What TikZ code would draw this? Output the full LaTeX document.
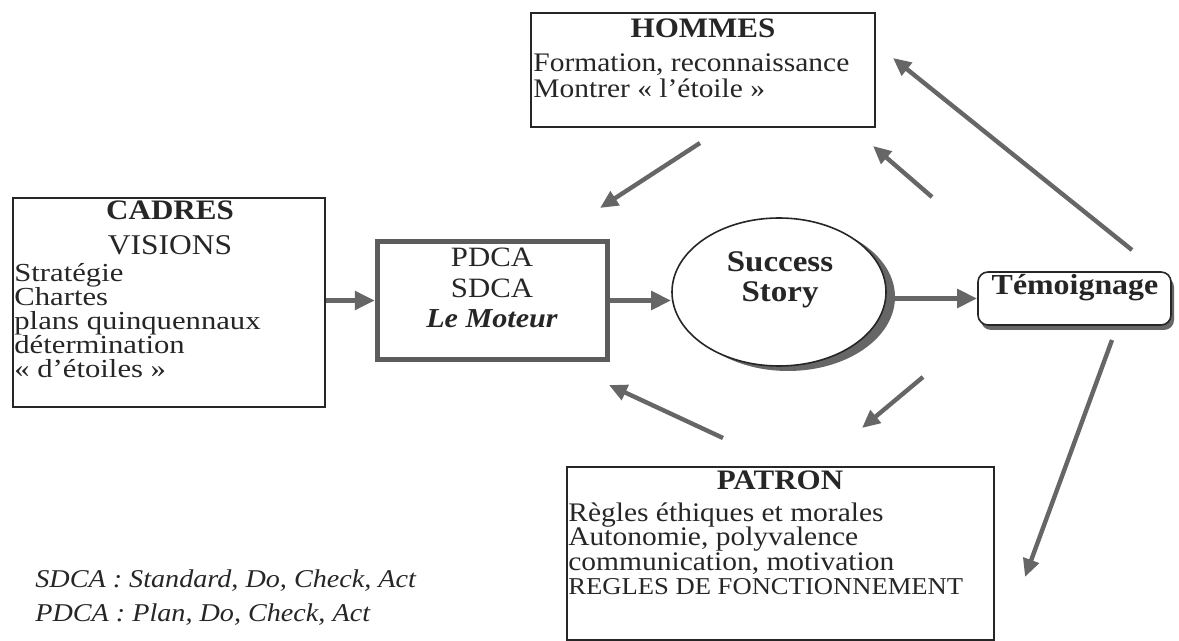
\documentclass[tikz,border=0pt]{standalone}
\usepackage{fontspec}
\setmainfont{Liberation Serif}[FakeStretch=1.1]
\newfontfamily\cadresfont{Liberation Serif}[FakeStretch=1.18]
\usetikzlibrary{arrows.meta,shapes.geometric,shadows}
\definecolor{ink}{HTML}{262626}
\definecolor{arrowgray}{HTML}{666666}
\definecolor{framegray}{HTML}{5C5C5C}
\begin{document}
\begin{tikzpicture}[x=0.5pt,y=-0.5pt,
  frame/.style={draw=ink, line width=0.8pt, rectangle, inner sep=0pt},
  flow/.style={draw=arrowgray, line width=2.6pt, -{Triangle[length=10pt,width=9pt]}},
  slim/.style={draw=arrowgray, line width=2.2pt, -{Triangle[length=9pt,width=8pt]}},
  title/.style={font=\fontsize{14.1}{14.1}\selectfont\bfseries, text=ink, inner sep=0pt, anchor=base},
  body/.style={font=\fontsize{13.4}{13.4}\selectfont, text=ink, inner sep=0pt, anchor=base west},
  cbody/.style={font=\cadresfont\fontsize{13}{13}\selectfont, text=ink, inner sep=0pt, anchor=base west},
  big/.style={font=\fontsize{14}{14}\selectfont, text=ink, inner sep=0pt, anchor=base},
  bigbold/.style={font=\fontsize{15}{15}\selectfont\bfseries, text=ink, inner sep=0pt, anchor=base},
  note/.style={font=\fontsize{12.8}{12.8}\selectfont\itshape, text=ink, inner sep=0pt, anchor=base west}
]
\useasboundingbox (0,0) rectangle (1179,641);

% boxes
\node[frame, minimum width=172pt, minimum height=57pt] (hommes) at (703,70) {};
\node[frame, minimum width=156pt, minimum height=104.5pt] (cadres) at (169,302.5) {};
\node[rectangle, draw=framegray, line width=2.6pt, inner sep=0pt,
      minimum width=115pt, minimum height=59pt] (pdca) at (492.5,300.5) {};
\node[ellipse, draw=ink, line width=0.8pt, fill=white, inner sep=0pt,
      minimum width=107pt, minimum height=74pt,
      drop shadow={shadow xshift=4.5pt, shadow yshift=-2.5pt, fill=black!60, opacity=1}] (story) at (779,292) {};
\node[frame, rounded corners=5pt, fill=white, minimum width=96.5pt, minimum height=26.5pt,
      drop shadow={shadow xshift=1.5pt, shadow yshift=-2.5pt, fill=black!60, opacity=1}] (temo) at (1074.5,298.5) {};
\node[frame, minimum width=213.5pt, minimum height=86.5pt] (patron) at (780.5,553.5) {};

% HOMMES
\node[title] (hT) at (703,38) {HOMMES};
\node[body] (h1) at (533,72) {Formation, reconnaissance};
\node[body] (h2) at (533,98) {Montrer « l’étoile »};

% CADRES
\node[title] (cT) at (170,220) {CADRES};
\node[font=\fontsize{14.3}{14.3}\selectfont, text=ink, inner sep=0pt, anchor=base] (cV) at (170,255) {VISIONS};
\node[cbody] (c1) at (14,282) {Stratégie};
\node[cbody] (c2) at (14,306) {Chartes};
\node[cbody] (c3) at (14,330) {plans quinquennaux};
\node[cbody] (c4) at (14,354) {détermination};
\node[cbody] (c5) at (14,378) {« d’étoiles »};

% PDCA / SDCA
\node[big] (p1) at (492,267) {PDCA};
\node[big] (p2) at (492,298) {SDCA};
\node[bigbold, font=\fontsize{13.7}{13.7}\selectfont\bfseries\itshape] (p3) at (492,328) {Le Moteur};

% Success Story
\node[bigbold] (s1) at (780,272) {Success};
\node[bigbold] (s2) at (780,302) {Story};

% Temoignage
\node[bigbold, font=\fontsize{14.5}{14.5}\selectfont\bfseries] (tT) at (1075,295) {Témoignage};

% PATRON
\node[title] (pT) at (780,490) {PATRON};
\node[body] (r1) at (568,521.5) {Règles éthiques et morales};
\node[body] (r2) at (568,546) {Autonomie, polyvalence};
\node[body] (r3) at (568,570.5) {communication, motivation};
\node[body, font=\fontsize{12.1}{12.1}\selectfont] (r4) at (568,595) {REGLES DE FONCTIONNEMENT};

% legend
\node[note] (n1) at (35,588) {SDCA : Standard, Do, Check, Act};
\node[note] (n2) at (35,622) {PDCA : Plan, Do, Check, Act};

% main chain
\draw[flow] (cadres.east |- pdca.west) -- (pdca.west);
\draw[flow] (pdca.east) -- (pdca.east -| story.west);
\draw[flow] (story.east |- temo.west) -- (temo.west);

% feedback arrows
\coordinate (a1s) at (700,143); \coordinate (a1e) at (600,208);
\coordinate (a2s) at (932,197); \coordinate (a2e) at (873,146);
\coordinate (a3s) at (1132,250); \coordinate (a3e) at (893,58);
\coordinate (a4s) at (723,438); \coordinate (a4e) at (609,385);
\coordinate (a5s) at (923,377); \coordinate (a5e) at (862,428);
\coordinate (a6s) at (1112,340); \coordinate (a6e) at (1025,577);

\draw[slim] (a1s) -- (a1e);
\draw[slim] (a2s) -- (a2e);
\draw[slim] (a3s) -- (a3e);
\draw[slim] (a4s) -- (a4e);
\draw[slim] (a5s) -- (a5e);
\draw[slim] (a6s) -- (a6e);
\end{tikzpicture}
\end{document}
